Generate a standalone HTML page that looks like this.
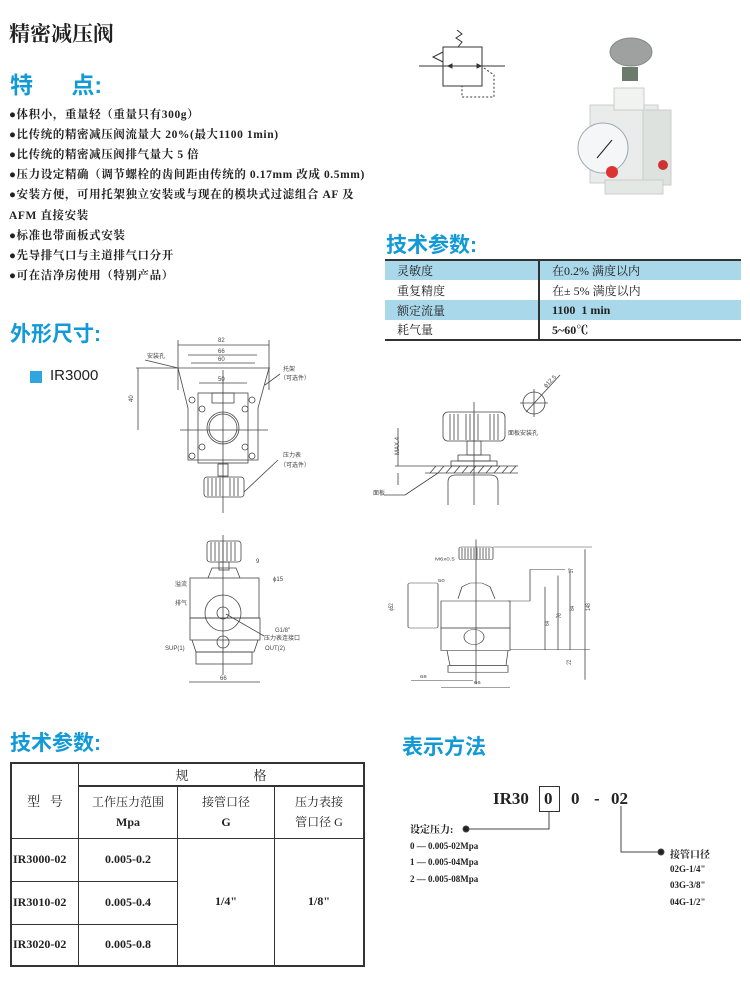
<!DOCTYPE html>
<html><head><meta charset="utf-8"><style>
body{margin:0;width:750px;height:982px;background:#fff;position:relative;overflow:hidden;font-family:"Liberation Serif","Noto Serif CJK SC",serif;color:#222}
.a{position:absolute;white-space:nowrap}
.blue{color:#129ad8;font-family:"Liberation Sans","Noto Sans CJK SC",sans-serif;font-weight:bold;font-size:21px}
.b{font-size:11.5px;font-weight:bold;letter-spacing:0.6px}
table{border-collapse:collapse}
</style></head><body>
<div class="a" style="left:9px;top:18px;font-size:21px;font-weight:bold;font-family:'Noto Serif CJK SC',serif">精密减压阀</div>
<div class="a blue" style="left:10px;top:66px;font-size:23px">特&nbsp;&nbsp;&nbsp;&nbsp;&nbsp;&nbsp;点:</div>
<div class="a b" style="left:9px;top:106px">●体积小，重量轻（重量只有300g）</div>
<div class="a b" style="left:9px;top:126px">●比传统的精密减压阀流量大 20%(最大1100 1min)</div>
<div class="a b" style="left:9px;top:146px">●比传统的精密减压阀排气量大 5 倍</div>
<div class="a b" style="left:9px;top:166px">●压力设定精确（调节螺栓的齿间距由传统的 0.17mm 改成 0.5mm)</div>
<div class="a b" style="left:9px;top:186px">●安装方便，可用托架独立安装或与现在的模块式过滤组合 AF 及</div>
<div class="a b" style="left:9px;top:207px">AFM 直接安装</div>
<div class="a b" style="left:9px;top:227px">●标准也带面板式安装</div>
<div class="a b" style="left:9px;top:247px">●先导排气口与主道排气口分开</div>
<div class="a b" style="left:9px;top:267px">●可在洁净房使用（特别产品）</div>
<div class="a blue" style="left:10px;top:318px">外形尺寸:</div>
<div class="a" style="left:30px;top:371px;width:12px;height:12px;background:#2fa6de"></div>
<div class="a" style="left:50px;top:367px;font-family:'Liberation Sans',sans-serif;font-size:15px">IR3000</div>

<div class="a blue" style="left:386px;top:229px">技术参数:</div>
<table class="a" style="left:385px;top:259px;width:356px;font-size:12px;border-top:2px solid #333;border-bottom:2px solid #333">
<tr style="background:#a9d8ea;height:20px"><td style="width:140px;padding-left:12px;border-right:2px solid #333">灵敏度</td><td style="padding-left:12px">在0.2% 满度以内</td></tr>
<tr style="height:20px"><td style="padding-left:12px;border-right:2px solid #333">重复精度</td><td style="padding-left:12px">在± 5% 满度以内</td></tr>
<tr style="background:#a9d8ea;height:20px"><td style="padding-left:12px;border-right:2px solid #333">额定流量</td><td style="padding-left:12px;font-weight:bold">1100&nbsp; 1 min</td></tr>
<tr style="height:20px"><td style="padding-left:12px;border-right:2px solid #333">耗气量</td><td style="padding-left:12px;font-weight:bold">5~60℃</td></tr>
</table>

<svg class="a" style="left:0;top:0" width="750" height="720" fill="none" stroke="#333" stroke-width="1">
<rect x="443" y="47" width="39" height="39"/>
<line x1="419" y1="66" x2="505" y2="66"/>
<polyline points="458,47 462,42 456,38 462,34 457,30"/>
<polyline points="443,52 433,57 443,62"/>
<path d="M484,68 L494,75 L494,97 L462,97 L462,86" stroke-dasharray="2,2"/>
<polygon points="448,66 452,64 452,68" fill="#333"/><polygon points="477,64 481,66 477,68" fill="#333"/>
<rect x="590" y="105" width="68" height="78" fill="#e9ecea" stroke="#ccc"/>
<rect x="614" y="88" width="30" height="22" fill="#f1f3f1" stroke="#ccc"/>
<rect x="643" y="110" width="28" height="75" fill="#dde2df" stroke="#ccc"/>
<rect x="605" y="180" width="58" height="14" fill="#e4e8e5" stroke="#ccc"/>
<rect x="622" y="67" width="16" height="14" fill="#6b7a6a" stroke="none"/>
<ellipse cx="631" cy="52" rx="21" ry="14" fill="#9ea1a0" stroke="#888"/>
<circle cx="603" cy="148" r="25" fill="#f4f6f8" stroke="#9aa"/>
<line x1="597" y1="158" x2="612" y2="140" stroke="#222"/>
<circle cx="612" cy="172" r="6" fill="#d33" stroke="none"/>
<circle cx="663" cy="165" r="5" fill="#c33" stroke="none"/>
</svg>

<svg class="a" style="left:0;top:330px" width="750" height="380" fill="none" stroke="#444" stroke-width="0.8" font-family="Liberation Sans,Noto Sans CJK SC,sans-serif" font-size="6">
<g>
<line x1="178" y1="15" x2="269" y2="15"/><line x1="178" y1="10" x2="178" y2="60"/><line x1="269" y1="10" x2="269" y2="60"/><text x="218" y="12" fill="#444" stroke="none">82</text>
<line x1="188" y1="25" x2="257" y2="25"/><text x="218" y="23" fill="#444" stroke="none">66</text>
<line x1="191" y1="33" x2="255" y2="33"/><text x="218" y="31" fill="#444" stroke="none">60</text>
<line x1="199" y1="53" x2="247" y2="53"/><text x="218" y="51" fill="#444" stroke="none">50</text>
<line x1="136" y1="38" x2="270" y2="38"/><line x1="138" y1="38" x2="138" y2="100"/><text x="133" y="72" fill="#444" stroke="none" transform="rotate(-90 133 72)">40</text>
<polyline points="178,38 188,78 188,130 258,130 258,78 269,38"/>
<rect x="198" y="63" width="50" height="70"/>
<rect x="212" y="63" width="22" height="10"/>
<circle cx="223" cy="98" r="16"/><circle cx="223" cy="98" r="14"/>
<circle cx="192" cy="70" r="3"/><circle cx="252" cy="70" r="3"/><circle cx="202" cy="79" r="3"/><circle cx="245" cy="79" r="3"/>
<circle cx="202" cy="117" r="3"/><circle cx="245" cy="117" r="3"/><circle cx="192" cy="126" r="3"/><circle cx="252" cy="126" r="3"/>
<line x1="180" y1="100" x2="268" y2="100"/>
<rect x="218" y="134" width="10" height="12"/>
<rect x="204" y="147" width="40" height="20" rx="3"/>
<path d="M208,148v18M212,148v18M216,148v18M220,148v18M230,148v18M234,148v18M238,148v18"/>
<line x1="223" y1="40" x2="223" y2="183"/>
<text x="147" y="28" fill="#444" stroke="none">安装孔</text><line x1="145" y1="30" x2="178" y2="38"/>
<text x="283" y="41" fill="#444" stroke="none">托架</text><text x="280" y="50" fill="#444" stroke="none">（可选件）</text><line x1="265" y1="55" x2="280" y2="44"/>
<text x="283" y="127" fill="#444" stroke="none">压力表</text><text x="280" y="137" fill="#444" stroke="none">（可选件）</text><line x1="244" y1="162" x2="278" y2="130"/>
</g>
<g>
<rect x="207" y="211" width="34" height="21" rx="3"/>
<path d="M211,212v19M215,212v19M219,212v19M223,212v19M227,212v19M231,212v19M235,212v19"/>
<rect x="219" y="232" width="10" height="8"/>
<path d="M208,248 L212,238 L236,238 L240,248"/>
<rect x="190" y="248" width="69" height="40"/>
<rect x="190" y="288" width="70" height="22"/>
<path d="M192,310 L196,322 L254,322 L258,310"/><rect x="196" y="322" width="56" height="12"/>
<circle cx="223" cy="283" r="18"/><circle cx="223" cy="283" r="6"/><circle cx="223" cy="312" r="6"/>
<line x1="223" y1="205" x2="223" y2="345"/>
<line x1="189" y1="352" x2="260" y2="352"/><text x="220" y="350" fill="#444" stroke="none">66</text>
<text x="256" y="233" fill="#444" stroke="none">9</text><text x="273" y="251" fill="#444" stroke="none">ϕ15</text>
<text x="275" y="302" fill="#444" stroke="none">G1/8"</text><text x="264" y="310" fill="#444" stroke="none">压力表连接口</text>
<text x="265" y="320" fill="#444" stroke="none">OUT(2)</text><text x="165" y="320" fill="#444" stroke="none">SUP(1)</text>
<text x="175" y="256" fill="#444" stroke="none">溢流</text><text x="175" y="275" fill="#444" stroke="none">排气</text>
<line x1="226" y1="284" x2="264" y2="306"/>
</g>
<g>
<rect x="443" y="82" width="62" height="29" rx="5"/>
<path d="M450,84v26M454,84v26M458,84v26M466,84v26M470,84v26M474,84v26M478,84v26M490,84v26M494,84v26M498,84v26"/>
<rect x="467" y="111" width="14" height="14"/><rect x="458" y="125" width="32" height="6"/><rect x="451" y="131" width="46" height="5"/>
<line x1="395" y1="136" x2="518" y2="136"/><line x1="425" y1="143" x2="518" y2="143"/>
<path d="M430,143l6,-7M438,143l6,-7M446,143l6,-7M454,143l6,-7M462,143l6,-7M470,143l6,-7M478,143l6,-7M486,143l6,-7M494,143l6,-7M502,143l6,-7M510,143l6,-7"/>
<path d="M448,175 L448,152 Q448,145 456,145 L490,145 Q498,145 498,152 L498,175"/>
<line x1="474" y1="72" x2="474" y2="175"/>
<line x1="398" y1="98" x2="398" y2="136"/><text x="399" y="125" fill="#444" stroke="none" transform="rotate(-90 399 125)">MAX.4</text>
<line x1="398" y1="143" x2="398" y2="155"/>
<text x="373" y="165" fill="#444" stroke="none">面板</text><line x1="384" y1="165" x2="405" y2="165"/><line x1="405" y1="165" x2="438" y2="143"/>
<text x="508" y="105" fill="#444" stroke="none">面板安装孔</text>
<circle cx="534" cy="73" r="11"/><line x1="520" y1="73" x2="548" y2="73"/><line x1="534" y1="59" x2="534" y2="87"/><line x1="526" y1="82" x2="560" y2="45"/>
<text x="546" y="58" fill="#444" stroke="none" transform="rotate(-45 546 58)">ϕ12.5</text>
</g>
<g transform="translate(0,217) scale(1,0.75) translate(0,-215)">
<rect x="459" y="215" width="34" height="17" rx="2"/>
<path d="M462,216v15M465,216v15M468,216v15M471,216v15M474,216v15M477,216v15M480,216v15M483,216v15M486,216v15M489,216v15"/>
<path d="M458,284 L462,268 L470,263 L482,263 L490,268 L495,284"/>
<rect x="441" y="287" width="69" height="36"/>
<rect x="441" y="323" width="69" height="30"/>
<path d="M447,353 L450,373 L506,373 L508,353"/>
<rect x="448" y="373" width="60" height="9"/>
<rect x="408" y="263" width="30" height="60" rx="2"/>
<circle cx="474" cy="335" r="10"/>
<line x1="476" y1="205" x2="476" y2="398"/>
<line x1="493" y1="215" x2="592" y2="215"/><line x1="585" y1="218" x2="585" y2="392"/>
<text x="590" y="300" fill="#444" stroke="none" transform="rotate(-90 590 300)">148</text>
<line x1="570" y1="245" x2="570" y2="352"/><text x="574" y="300" fill="#444" stroke="none" transform="rotate(-90 574 300)">84</text>
<line x1="558" y1="253" x2="558" y2="352"/><text x="561" y="310" fill="#444" stroke="none" transform="rotate(-90 561 310)">76</text>
<line x1="545" y1="268" x2="545" y2="352"/><text x="549" y="320" fill="#444" stroke="none" transform="rotate(-90 549 320)">64</text>
<text x="573" y="250" fill="#444" stroke="none" transform="rotate(-90 573 250)">17</text>
<text x="571" y="372" fill="#444" stroke="none" transform="rotate(-90 571 372)">22</text>
<line x1="510" y1="352" x2="590" y2="352"/>
<path d="M508,287 L530,287 L530,245 L565,245"/>
<text x="435" y="233" fill="#444" stroke="none">M6x0.5</text>
<text x="438" y="262" fill="#444" stroke="none">50</text>
<text x="393" y="300" fill="#444" stroke="none" transform="rotate(-90 393 300)">ϕ52</text>
<text x="420" y="390" fill="#444" stroke="none">68</text><line x1="411" y1="393" x2="473" y2="393"/>
<text x="474" y="398" fill="#444" stroke="none">66</text><line x1="441" y1="402" x2="510" y2="402"/>
</g>
</svg>

<div class="a blue" style="left:10px;top:727px">技术参数:</div>
<div class="a blue" style="left:402px;top:731px">表示方法</div>
<table class="a" style="left:10px;top:762px;width:355px;font-size:12px;font-weight:bold;text-align:center;border:2px solid #333">
<tr style="height:22px"><td rowspan="2" style="width:64px;border:1px solid #333;font-weight:normal;font-size:13px">型&nbsp;&nbsp;&nbsp;号</td><td colspan="3" style="border:1px solid #333;border-bottom:2px solid #333;font-weight:normal;font-size:13px">规&nbsp;&nbsp;&nbsp;&nbsp;&nbsp;&nbsp;&nbsp;&nbsp;&nbsp;&nbsp;&nbsp;&nbsp;&nbsp;&nbsp;&nbsp;&nbsp;&nbsp;&nbsp;&nbsp;&nbsp;格</td></tr>
<tr style="height:52px"><td style="width:96px;border:1px solid #333;line-height:20px"><span style="font-weight:normal">工作压力范围</span><br>Mpa</td><td style="width:94px;border:1px solid #333;line-height:20px"><span style="font-weight:normal">接管口径</span><br>G</td><td style="border:1px solid #333;line-height:20px;font-weight:normal">压力表接<br>管口径 G</td></tr>
<tr style="height:43px"><td style="border:1px solid #333;text-align:left">IR3000-02</td><td style="border:1px solid #333">0.005-0.2</td><td rowspan="3" style="border:1px solid #333">1/4"</td><td rowspan="3" style="border:1px solid #333">1/8"</td></tr>
<tr style="height:43px"><td style="border:1px solid #333;text-align:left">IR3010-02</td><td style="border:1px solid #333">0.005-0.4</td></tr>
<tr style="height:42px"><td style="border:1px solid #333;text-align:left">IR3020-02</td><td style="border:1px solid #333">0.005-0.8</td></tr>
</table>

<div class="a" style="left:493px;top:789px;font-size:17px;font-weight:bold">IR30</div>
<div class="a" style="left:539px;top:786px;width:19px;height:24px;border:1px solid #333"></div>
<div class="a" style="left:544px;top:789px;font-size:17px;font-weight:bold">0</div>
<div class="a" style="left:571px;top:789px;font-size:17px;font-weight:bold">0</div>
<div class="a" style="left:594px;top:789px;font-size:17px;font-weight:bold">-</div>
<div class="a" style="left:611px;top:789px;font-size:17px;font-weight:bold">02</div>
<svg class="a" style="left:0;top:0" width="750" height="982" fill="none" stroke="#444" stroke-width="1">
<polyline points="549,812 549,829 467,829"/><circle cx="466" cy="829" r="3" fill="#222"/>
<polyline points="621,806 621,852 660,852"/><circle cx="661" cy="852" r="3" fill="#222"/>
</svg>
<div class="a" style="left:410px;top:821px;font-size:10px;font-weight:bold">设定压力:</div>
<div class="a" style="left:410px;top:841px;font-size:9px;font-weight:bold">0 — 0.005-02Mpa</div>
<div class="a" style="left:410px;top:857px;font-size:9px;font-weight:bold">1 — 0.005-04Mpa</div>
<div class="a" style="left:410px;top:874px;font-size:9px;font-weight:bold">2 — 0.005-08Mpa</div>
<div class="a" style="left:670px;top:846px;font-size:10px;font-weight:bold">接管口径</div>
<div class="a" style="left:670px;top:864px;font-size:9px;font-weight:bold">02G-1/4"</div>
<div class="a" style="left:670px;top:880px;font-size:9px;font-weight:bold">03G-3/8"</div>
<div class="a" style="left:670px;top:897px;font-size:9px;font-weight:bold">04G-1/2"</div>
</body></html>
